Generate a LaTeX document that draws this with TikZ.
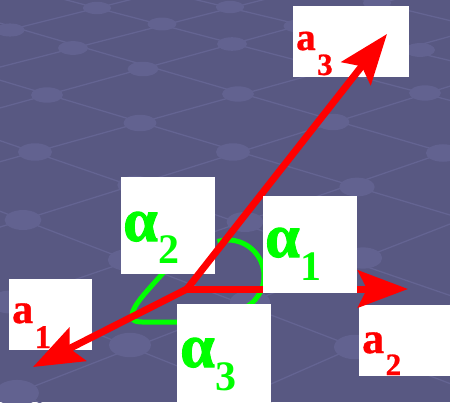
\documentclass[tikz,border=0pt]{standalone}
\usepackage{fontspec}
\setmainfont{Liberation Serif}
\newfontfamily\alphafont{Liberation Serif}[UprightFont={* Bold}, FakeBold=1.6]
\newfontfamily\vecfont{Liberation Serif}[UprightFont={* Bold}, FakeBold=0.8]
\usetikzlibrary{arrows.meta,calc}
\definecolor{bgc}{RGB}{88,88,130}
\definecolor{gridc}{RGB}{100,100,146}
\definecolor{blobc}{RGB}{98,98,144}
\definecolor{vred}{RGB}{255,0,0}
\definecolor{vgreen}{RGB}{0,255,0}
\newcommand{\veclbl}[5]{{\fontsize{#1}{#1}\selectfont\vecfont #2}\kern1.5pt\raisebox{-#5pt}{\fontsize{#3}{#3}\selectfont\vecfont #4}}
\newcommand{\anglbl}[2]{{\fontsize{62}{62}\selectfont\alphafont α}\kern1pt\raisebox{-#2pt}{\fontsize{42}{42}\selectfont\bfseries #1}}
\begin{document}
\begin{tikzpicture}[x=1pt,y=-1pt,
  wbox/.style={fill=white, draw=none, inner sep=0pt, outer sep=0pt, anchor=north west},
  redlbl/.style={text=vred, font=\bfseries, inner sep=0pt, anchor=base west},
  grnlbl/.style={text=vgreen, font=\bfseries, inner sep=0pt, anchor=base west},
  vecline/.style={draw=vred, line width=7pt, -{Stealth[length=50pt,width=37pt,inset=9pt]}},
  anglearc/.style={draw=vgreen, line width=5pt},
  gridline/.style={draw=gridc, line width=1.3pt},
  blob/.style={fill=blobc}]
\useasboundingbox (0,0) rectangle (450,402);
\fill[bgc] (0,0) rectangle (450,402);
% background lattice
\begin{scope}
\clip (0,0) rectangle (450,402);
\foreach \ya/\yb in {-49.6/63, -90/23, -20/103, 20.2/157, 77.2/218, 137.2/298.9, 207.4/387.4, 291/479, 381.7/579}
  \draw[gridline] (-10,\ya) -- (460,\yb);
\foreach \ya/\yb in {34.75/-82.75, 69.6/-50.6, 110.7/-18.6, 164.5/33.6, 230.2/83, 308.8/147.2, 403.4/220.1, 507.6/300.8}
  \draw[gridline] (-10,\ya) -- (460,\yb);
\foreach \bx/\by in {97/8,230/7,377/3,10/30,162/24,298/26,73/48,232/44,420/50,143/69,330/69,47/95,238/94,425/93,140/123,333/122,35/152,233/152,443/153,135/185,357/187,23/220,245/222,127/260,363/258,250/302,10/302,130/345,355/347,17/393}
  \fill[blob] (\bx,\by) ellipse [x radius={14+0.02*\by}, y radius={6+0.018*\by}];
\end{scope}
% points
\coordinate (O) at (187,289);
\coordinate (P1) at (33,367);
\coordinate (P2) at (408,289);
\coordinate (P3) at (387,34);
\coordinate (C1) at (228,276);
% angle arcs
\draw[anglearc] (C1) ++(-107:36) arc[start angle=-107, end angle=65, radius=36];
\draw[anglearc] (164,272) .. controls (148,290) and (133,305) .. (132,315)
  .. controls (131,323) and (140,322) .. (150,322) -- (182,322);
% alpha2 box (under the vectors)
\node[wbox, minimum width=94pt, minimum height=97pt] (bAl2) at (121,177) {};
\node[grnlbl] (tAl2) at (123,241) {\anglbl{2}{22}};
% vector label boxes
\node[wbox, minimum width=116pt, minimum height=71pt] (bA3) at (293,6) {};
\node[redlbl] (tA3) at (296,50) {\veclbl{39}{a}{31}{3}{25}};
\node[wbox, minimum width=83pt, minimum height=71pt] (bA1) at (9,279) {};
\node[redlbl] (tA1) at (12,323) {\veclbl{42}{a}{33}{1}{25}};
\node[wbox, minimum width=100pt, minimum height=71pt] (bA2) at (359,305) {};
\node[redlbl] (tA2) at (362,353) {\veclbl{44}{a}{31}{2}{22}};
% vectors
\draw[vecline] (O) -- (P3);
\draw[vecline] (O) -- (P2);
\draw[vecline] (O) -- (P1);
% alpha1 and alpha3 boxes (over the vectors)
\node[wbox, minimum width=94pt, minimum height=97pt] (bAl1) at (263,196) {};
\node[grnlbl] (tAl1) at (265,257) {\anglbl{1}{23}};
\node[wbox, minimum width=94pt, minimum height=100pt] (bAl3) at (177,304) {};
\node[grnlbl] (tAl3) at (180,367) {\anglbl{3}{23}};
\end{tikzpicture}
\end{document}
